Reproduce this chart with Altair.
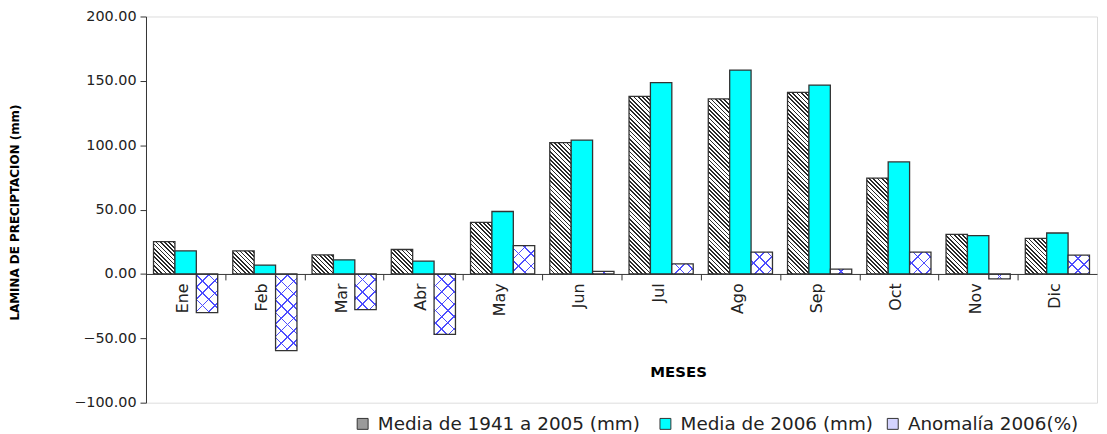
import math
import altair as alt
import pandas as pd

# ---- data ----
meses = ["Ene", "Feb", "Mar", "Abr", "May", "Jun", "Jul", "Ago", "Sep", "Oct", "Nov", "Dic"]
media_hist = [25.1, 17.9, 14.8, 19.0, 40.0, 102.0, 138.0, 136.0, 141.0, 74.5, 30.8, 27.7]
media_2006 = [17.9, 6.9, 11.0, 10.0, 48.5, 104.0, 148.7, 158.4, 146.7, 87.0, 29.7, 31.8]
anomalia = [-30.0, -59.5, -27.7, -47.0, 22.0, 2.0, 7.9, 17.0, 3.8, 17.0, -3.8, 14.6]
series = ["Media  de 1941 a 2005 (mm)", "Media de 2006 (mm)", "Anomalía 2006(%)"]
y_ticks = [-100, -50, 0, 50, 100, 150, 200]

rows = []
for i, m in enumerate(meses):
    for s, vals in zip(series, [media_hist, media_2006, anomalia]):
        rows.append({"mes": m, "serie": s, "valor": vals[i]})
df = pd.DataFrame(rows)

# ---- layout ----
W, H = 958, 389
y_min, y_max = y_ticks[0], y_ticks[-1]
zero_px = H * (y_max - 0) / (y_max - y_min)
px_per_unit = H / (y_max - y_min)
PAD_INNER = 0.19
step = W / len(meses)
bar_w = step * (1 - PAD_INNER) / len(series)
FONT = "DejaVu Sans"
STROKE = "#333333"


def diag_gradient(line, bg, w, h, period, duty, back=True):
    """Stripes at 45 degrees in pixel space, for a bar of w x h pixels."""
    h = max(h, 0.5)
    s = (w + h) / (w * w + h * h)
    if back:  # lines like "\"
        x1, y1, x2, y2 = 0, 1, s * w, 1 - s * h
    else:  # lines like "/"
        x1, y1, x2, y2 = 0, 0, s * w, s * h
    n = (w + h) / (math.sqrt(2) * period)
    stops = []
    for k in range(int(math.ceil(n))):
        a = min(k / n, 1.0)
        b = min((k + duty) / n, 1.0)
        c = min((k + 1) / n, 1.0)
        stops += [
            alt.GradientStop(offset=a, color=line),
            alt.GradientStop(offset=b, color=line),
            alt.GradientStop(offset=b, color=bg),
            alt.GradientStop(offset=c, color=bg),
        ]
    return alt.LinearGradient(gradient="linear", stops=stops, x1=x1, y1=y1, x2=x2, y2=y2)


x_enc = alt.X(
    "mes:N",
    sort=meses,
    scale=alt.Scale(paddingInner=PAD_INNER, paddingOuter=PAD_INNER / 2),
    axis=alt.Axis(
        title="MESES",
        titleFont=FONT,
        titleFontSize=15,
        titleFontWeight="bold",
        titleColor="#000000",
        titleX=536,
        titleY=98,
        titleAlign="center",
        titleBaseline="middle",
        offset=-(H - zero_px),
        labelAngle=270,
        labelAlign="right",
        labelBaseline="middle",
        labelFont=FONT,
        labelFontSize=16,
        labelColor="#222222",
        labelPadding=3,
        labelOverlap=False,
        tickOffset=-step / 2,
        labelOffset=step / 2 - 3,
        tickSize=6,
        tickColor=STROKE,
        domainColor=STROKE,
        zindex=1,
    ),
)
xo_enc = alt.XOffset(
    "serie:N", sort=series, scale=alt.Scale(domain=series, paddingInner=0, paddingOuter=0)
)
y_enc = alt.Y(
    "valor:Q",
    scale=alt.Scale(domain=[y_min, y_max], nice=False, zero=False),
    axis=alt.Axis(
        values=y_ticks,
        format=".2f",
        title="LAMINA DE PRECIPTACION (mm)",
        titleFont=FONT,
        titleFontSize=12,
        titleFontWeight="bold",
        titleColor="#000000",
        titleX=-125,
        titleY=197,
        titleAlign="center",
        labelFont=FONT,
        labelFontSize=14.5,
        labelColor="#222222",
        labelPadding=4,
        tickSize=6,
        tickColor=STROKE,
        domainColor=STROKE,
        grid=False,
    ),
)

base = alt.Chart(df)
enc = dict(x=x_enc, xOffset=xo_enc, y=y_enc)

layers = []

# invisible layer that only carries the legend
layers.append(
    base.mark_bar(opacity=0).encode(
        color=alt.Color(
            "serie:N",
            sort=series,
            scale=alt.Scale(domain=series, range=["#9a9a9a", "#00ffff", "#d4d4ff"]),
            legend=alt.Legend(
                orient="none",
                legendX=209,
                legendY=401,
                direction="horizontal",
                title=None,
                labelFont=FONT,
                labelFontSize=18.5,
                labelColor="#222222",
                labelLimit=500,
                labelOffset=6,
                columnPadding=10,
                symbolType="square",
                symbolSize=121,
                symbolStrokeColor=STROKE,
                symbolStrokeWidth=1,
                symbolOpacity=1,
                padding=0,
            ),
        ),
        **enc,
    )
)

# hatched bars: historical mean (one layer per bar so the hatch stays at 45 degrees)
for m, v in zip(meses, media_hist):
    g = diag_gradient("#2a2a2a", "#ffffff", bar_w, abs(v) * px_per_unit, 3.0, 0.4, back=True)
    layers.append(
        base.transform_filter((alt.datum.serie == series[0]) & (alt.datum.mes == m))
        .mark_bar(fill=g, stroke=STROKE, strokeWidth=1.3)
        .encode(**enc)
    )

# cyan bars: 2006
layers.append(
    base.transform_filter(alt.datum.serie == series[1])
    .mark_bar(fill="#00ffff", stroke=STROKE, strokeWidth=1.3)
    .encode(**enc)
)

# anomaly bars: white with blue cross-hatch
layers.append(
    base.transform_filter(alt.datum.serie == series[2]).mark_bar(fill="#ffffff").encode(**enc)
)
for m, v in zip(meses, anomalia):
    hpx = abs(v) * px_per_unit
    for back in (True, False):
        g = diag_gradient("#4d4dff", "rgba(77,77,255,0)", bar_w, hpx, 8.8, 0.13, back=back)
        layers.append(
            base.transform_filter((alt.datum.serie == series[2]) & (alt.datum.mes == m))
            .mark_bar(fill=g)
            .encode(**enc)
        )
layers.append(
    base.transform_filter(alt.datum.serie == series[2])
    .mark_bar(fillOpacity=0, stroke=STROKE, strokeWidth=1.3)
    .encode(**enc)
)

chart = (
    alt.layer(*layers)
    .properties(
        width=W,
        height=H,
        autosize=alt.AutoSizeParams(type="none"),
        padding={"left": 139, "top": 7, "right": 2, "bottom": 30},
        background="#ffffff",
    )
    .configure_view(stroke=None)
    .configure(font=FONT)
)

chart.save("out.html", embed_options={"renderer": "svg", "actions": False})
